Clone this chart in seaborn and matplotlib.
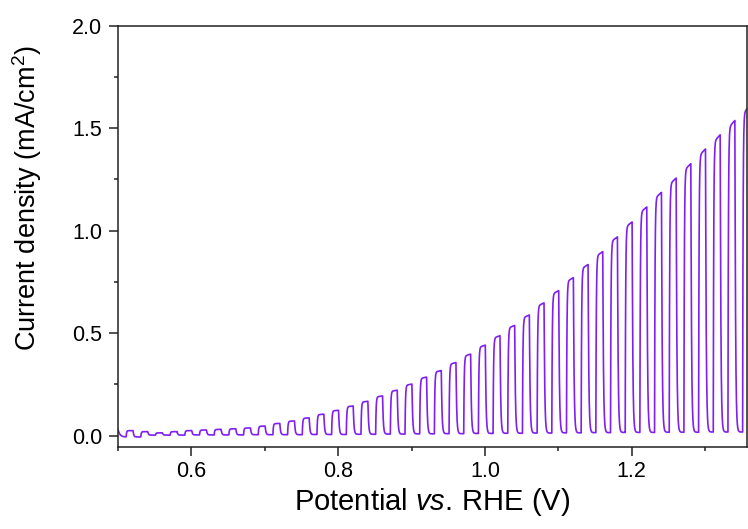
import numpy as np
import pandas as pd
import matplotlib
matplotlib.use("Agg")
import matplotlib.pyplot as plt
from matplotlib.ticker import MultipleLocator
import seaborn as sns

# Chopped-light linear sweep: light switched on every 20 mV for ~9.5 mV
scan_start = 0.500          # V vs. RHE
scan_end = 1.360
chop_first_on = 0.511
chop_period = 0.020
light_on_width = 0.0095

# Photocurrent reached at the end of each illuminated interval (mA/cm^2)
peak_current = [
    0.025, 0.020, 0.014, 0.020, 0.025, 0.028, 0.031, 0.034, 0.038, 0.047,
    0.060, 0.072, 0.087, 0.105, 0.124, 0.145, 0.168, 0.194, 0.222, 0.252,
    0.286, 0.318, 0.357, 0.398, 0.442, 0.488, 0.538, 0.589, 0.648, 0.708,
    0.771, 0.835, 0.898, 0.970, 1.043, 1.116, 1.187, 1.257, 1.327, 1.399,
    1.468, 1.538, 1.610,
]
# Dark current level following each pulse (mA/cm^2)
dark_current = [
    -0.006, 0.003, 0.003, 0.003, 0.004, 0.004, 0.004, 0.004, 0.005, 0.005,
    0.005, 0.005, 0.006, 0.006, 0.006, 0.007, 0.007, 0.008, 0.008, 0.009,
    0.009, 0.010, 0.010, 0.011, 0.011, 0.012, 0.012, 0.013, 0.013, 0.014,
    0.014, 0.015, 0.015, 0.016, 0.016, 0.016, 0.017, 0.017, 0.017, 0.018,
    0.018, 0.018, 0.018,
]
initial_current = 0.030

tau_rise = 0.0006
tau_fall = 0.0009


def build_trace(step=0.0002):
    v = np.arange(scan_start, scan_end, step)
    on_edges = chop_first_on + chop_period * np.arange(len(peak_current))
    j = np.empty_like(v)
    for i, vi in enumerate(v):
        k = np.searchsorted(on_edges, vi, side="right") - 1
        if k < 0:
            d0 = dark_current[0]
            j[i] = d0 + (initial_current - d0) * np.exp(-(vi - scan_start) / 0.0025)
            continue
        dt = vi - on_edges[k]
        d_before = dark_current[k - 1] if k > 0 else dark_current[0]
        top = peak_current[k]
        if dt < light_on_width:
            target = top * (0.975 + 0.025 * dt / light_on_width)
            j[i] = d_before + (target - d_before) * (1 - np.exp(-dt / tau_rise))
        else:
            end_on = d_before + (top - d_before) * (1 - np.exp(-light_on_width / tau_rise))
            d = dark_current[k]
            j[i] = d + (end_on - d) * np.exp(-(dt - light_on_width) / tau_fall)
    return v, j


potential, current = build_trace()
df = pd.DataFrame({"potential": potential, "current": current})

sns.set_style("ticks")
plt.rcParams["font.family"] = ["Liberation Sans", "DejaVu Sans"]
plt.rcParams["mathtext.fontset"] = "custom"
plt.rcParams["mathtext.rm"] = "Liberation Sans"
plt.rcParams["mathtext.it"] = "Liberation Sans:italic"
plt.rcParams["text.color"] = "black"
plt.rcParams["axes.labelcolor"] = "black"
plt.rcParams["xtick.color"] = "black"
plt.rcParams["ytick.color"] = "black"

fig = plt.figure(figsize=(7.48, 5.29), dpi=100)
ax = fig.add_axes([0.1578, 0.1556, 0.8409, 0.7958])

sns.lineplot(data=df, x="potential", y="current", ax=ax, color="#7f1ff0",
             linewidth=1.2, sort=False, estimator=None)

ax.set_xlim(0.5, 1.357)
ax.set_ylim(-0.0535, 2.0)
ax.xaxis.set_major_locator(MultipleLocator(0.2))
ax.xaxis.set_minor_locator(MultipleLocator(0.1))
ax.yaxis.set_major_locator(MultipleLocator(0.5))
ax.yaxis.set_minor_locator(MultipleLocator(0.25))
ax.set_xticks([0.6, 0.8, 1.0, 1.2])
ax.set_xticklabels(["0.6", "0.8", "1.0", "1.2"])

ax.tick_params(axis="both", which="major", direction="out", length=6.5,
               width=1.1, labelsize=15.5, color="#222222")
ax.tick_params(axis="y", which="major", pad=5)
ax.tick_params(axis="x", which="major", pad=4)
ax.tick_params(axis="both", which="minor", direction="out", length=3,
               width=1.1, color="#222222")
for side in ax.spines.values():
    side.set_linewidth(1.1)
    side.set_color("#222222")

ax.set_xlabel("Potential $\\it{vs.}\\,$RHE (V)", fontsize=21, labelpad=3)
ax.set_ylabel("Current density (mA/cm$^2$)", fontsize=19.5)
ax.yaxis.set_label_coords(-0.117, 0.59)

fig.savefig("out.png", dpi=100)
